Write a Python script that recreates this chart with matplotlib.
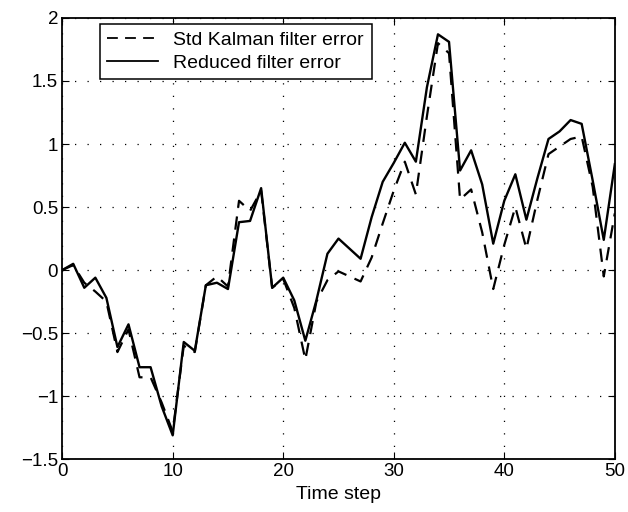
import numpy as np
import matplotlib
matplotlib.use("Agg")
from matplotlib import pyplot as plt

plt.rcParams['font.family'] = ['Liberation Sans', 'DejaVu Sans']

time_step = list(range(51))

std_kalman_err = [0.0, 0.04, -0.10, -0.17, -0.25, -0.65, -0.47, -0.85, -0.85, -1.05,
                  -1.28, -0.60, -0.65, -0.12, -0.05, -0.13, 0.55, 0.47, 0.63, -0.14,
                  -0.07, -0.30, -0.71, -0.25, -0.08, -0.01, -0.05, -0.09, 0.10, 0.37,
                  0.63, 0.86, 0.60, 1.22, 1.80, 1.72, 0.56, 0.64, 0.30, -0.15,
                  0.20, 0.50, 0.17, 0.56, 0.92, 0.98, 1.04, 1.06, 0.66, -0.05,
                  0.45]

reduced_err = [0.0, 0.05, -0.14, -0.06, -0.22, -0.61, -0.43, -0.77, -0.77, -1.08,
               -1.31, -0.57, -0.64, -0.12, -0.10, -0.15, 0.38, 0.39, 0.65, -0.14,
               -0.06, -0.24, -0.56, -0.24, 0.13, 0.25, 0.17, 0.09, 0.42, 0.70,
               0.85, 1.01, 0.86, 1.45, 1.87, 1.81, 0.79, 0.95, 0.68, 0.21,
               0.55, 0.76, 0.40, 0.73, 1.04, 1.10, 1.19, 1.16, 0.71, 0.24,
               0.84]

xticks = [0, 10, 20, 30, 40, 50]
yticks = [-1.5, -1, -0.5, 0, 0.5, 1, 1.5, 2]
ytick_labels = ['\u22121.5', '\u22121', '\u22120.5', '0', '0.5', '1', '1.5', '2']

fig = plt.figure(figsize=(6.28, 5.12), dpi=100)
ax = fig.add_axes([0.099, 0.103, 0.880, 0.862])

ax.plot(time_step, std_kalman_err, color='black', lw=1.6, dashes=(6, 4),
        label='Std Kalman filter error')
ax.plot(time_step, reduced_err, color='black', lw=1.7, label='Reduced filter error')

ax.set_xlim(0, 50)
ax.set_ylim(-1.5, 2)
ax.set_xticks(xticks)
ax.set_yticks(yticks)
ax.set_yticklabels(ytick_labels)
ax.grid(True, color='black', lw=0.9, linestyle=(0, (1, 9)))
ax.tick_params(direction='in', length=5, width=0.8, top=True, right=True,
               labelsize=13.5, colors='black', pad=3)
for s in ax.spines.values():
    s.set_linewidth(1.3)
ax.set_xlabel('Time step', fontsize=14, labelpad=4)

leg = ax.legend(loc='upper left', bbox_to_anchor=(0.057, 1.0), fontsize=14,
                fancybox=False, framealpha=1, edgecolor='black',
                handlelength=2.6, borderpad=0.4, labelspacing=0.25,
                handletextpad=0.8, borderaxespad=0.3)
leg.get_frame().set_linewidth(1.1)
for h in leg.get_lines():
    h.set_linewidth(1.3)

plt.savefig('out.png', dpi=100)
